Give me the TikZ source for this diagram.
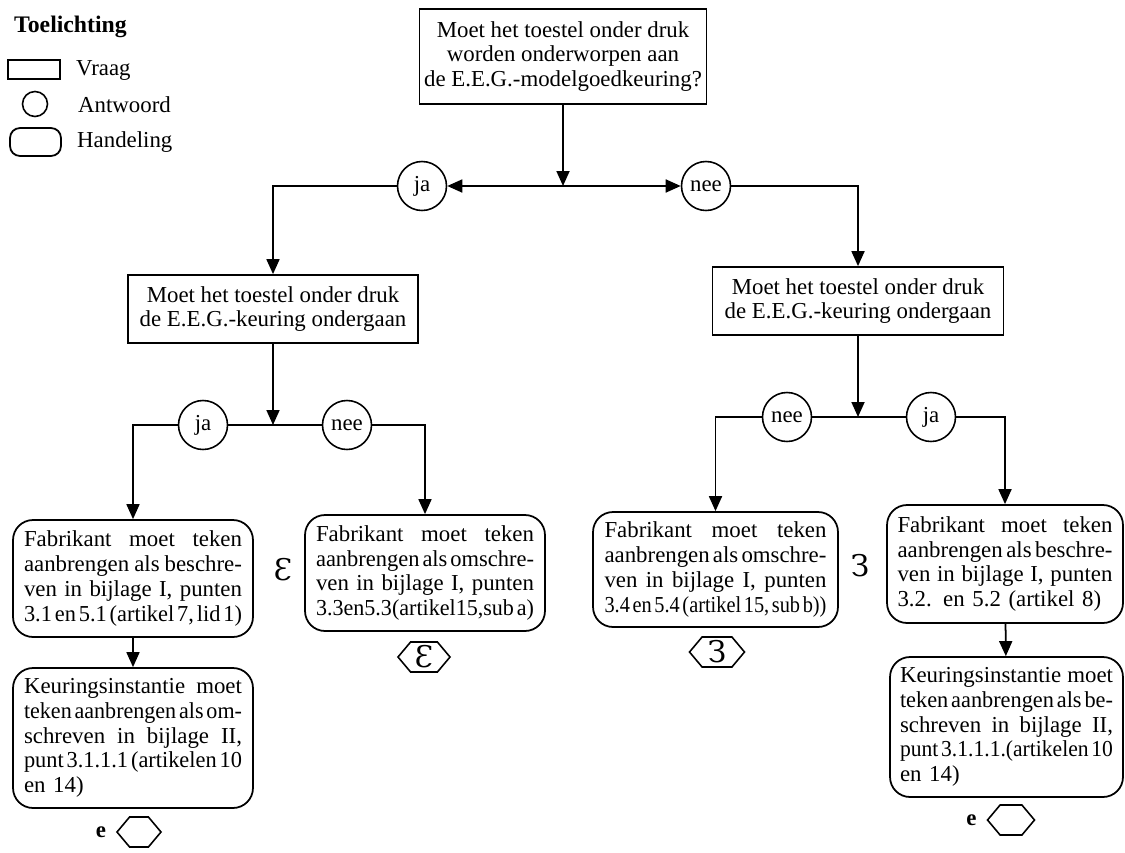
\documentclass[tikz,border=0pt]{standalone}
\usepackage{fontspec}
\usepackage{graphicx}
\setmainfont{Liberation Serif}
\newfontfamily\markfont{DejaVu Serif}
\usetikzlibrary{arrows.meta,shapes.symbols}
\newsavebox\jlbox
\newcommand\jl[1]{\sbox\jlbox{\spaceskip=.13em\relax\xspaceskip=.13em\relax #1}%
  \ifdim\wd\jlbox>\linewidth
    \resizebox{\linewidth}{\ht\jlbox}{\usebox\jlbox}%
  \else
    \makebox[\linewidth][s]{\spaceskip=.3em plus 1em minus .17em\relax\xspaceskip=\spaceskip #1}%
  \fi\par}
\newcommand\epsmark{{\markfont\fontsize{17}{17}\selectfont Ɛ}}
\newcommand\revmark{\scalebox{-1}[1]{\epsmark}}
\tikzset{
  every node/.style={font=\fontsize{13}{14}\selectfont},
  vraag/.style={draw, line width=1pt, rectangle, align=center, inner sep=0pt},
  antw/.style={draw, circle, line width=0.9pt, minimum size=9.8mm, inner sep=0pt},
  hand/.style={draw, rounded corners=4mm, line width=1pt, inner sep=0pt, align=left, font=\fontsize{13}{14.1}\selectfont},
  hexa/.style={draw, signal, signal to=east and west, signal pointer angle=100, line width=0.9pt, inner sep=0pt, minimum height=6mm},
  ln/.style={line width=1pt},
  arr/.style={line width=1pt, -{Triangle[length=3mm,width=2.6mm]}},
}
\begin{document}
\begin{tikzpicture}[x=0.02cm,y=-0.02cm]
\useasboundingbox (0,0) rectangle (1125,852);
% legend
\node[anchor=west, font=\fontsize{13.5}{14}\selectfont\bfseries] (tl) at (8,27) {Toelichting};
\node[draw, line width=1pt, minimum width=10.4mm, minimum height=3.8mm, inner sep=0pt] (lv) at (34,69.5) {};
\node[anchor=west] (tv) at (70,70) {Vraag};
\node[draw, circle, line width=0.9pt, minimum size=5mm, inner sep=0pt] (la) at (35,104) {};
\node[anchor=west] (ta) at (72,105) {Antwoord};
\node[draw, rounded corners=2mm, line width=1pt, minimum width=10.2mm, minimum height=5.6mm, inner sep=0pt] (lh) at (35.5,142) {};
\node[anchor=west] (th) at (71,142) {Handeling};
% top question
\node[vraag, minimum width=57.4mm, minimum height=19mm] (q0) at (563,56.5)
  {Moet het toestel onder druk\\worden onderworpen aan\\de E.E.G.-modelgoedkeuring?};
\coordinate (j0) at (563,186);
\node[antw] (ja0) at (422,186) {ja};
\node[antw] (nee0) at (706,186) {nee};
% second level questions
\node[vraag, minimum width=58mm, minimum height=13.6mm] (qL) at (273,309)
  {Moet het toestel onder druk\\de E.E.G.-keuring ondergaan};
\node[vraag, minimum width=58.2mm, minimum height=13.6mm] (qR) at (858,301)
  {Moet het toestel onder druk\\de E.E.G.-keuring ondergaan};
\coordinate (jL) at (273,425);
\node[antw] (ja1) at (203,425) {ja};
\node[antw] (nee1) at (347,425) {nee};
\coordinate (jR) at (858,417);
\node[antw] (nee2) at (787,417) {nee};
\node[antw] (ja2) at (931,417) {ja};
% actions
\node[hand, minimum width=48mm, minimum height=23.4mm, text width=43.6mm] (L1) at (133,578.5)
  {\jl{Fabrikant moet teken}\jl{aanbrengen als beschre-}\jl{ven in bijlage I, punten}\jl{3.1 en 5.1 (artikel 7, lid 1)}};
\node[hand, minimum width=48mm, minimum height=28mm, text width=43.6mm] (L2) at (133,738)
  {\jl{Keuringsinstantie moet}\jl{teken aanbrengen als om-}\jl{schreven in bijlage II,}\jl{punt 3.1.1.1 (artikelen 10}en 14)};
\node[hand, minimum width=48mm, minimum height=23.2mm, text width=43.6mm] (L3) at (425,573)
  {\jl{Fabrikant moet teken}\jl{aanbrengen als omschre-}\jl{ven in bijlage I, punten}\jl{3.3en5.3(artikel15,sub a)}};
\node[hand, minimum width=49mm, minimum height=23mm, text width=44.4mm] (R3) at (715.5,569.5)
  {\jl{Fabrikant moet teken}\jl{aanbrengen als omschre-}\jl{ven in bijlage I, punten}\jl{3.4 en 5.4 (artikel 15, sub b))}};
\node[hand, minimum width=47.2mm, minimum height=23.6mm, text width=43mm] (R4) at (1005,564)
  {\jl{Fabrikant moet teken}\jl{aanbrengen als beschre-}\jl{ven in bijlage I, punten}3.2. en 5.2 (artikel 8)};
\node[hand, minimum width=46.6mm, minimum height=28mm, text width=42.6mm] (R5) at (1006.5,727)
  {\jl{Keuringsinstantie moet}\jl{teken aanbrengen als be-}\jl{schreven in bijlage II,}\jl{punt 3.1.1.1.(artikelen 10}en 14)};
% marks
\node[inner sep=0pt] (mL) at (283,570) {\epsmark};
\node[inner sep=0pt] (mR) at (860,566) {\revmark};
\node[hexa, minimum width=10.4mm] (hL3) at (424,657) {\epsmark};
\node[hexa, minimum width=11mm] (hR3) at (717,652) {\revmark};
\node[hexa, minimum width=8.8mm] (hL2) at (139,832) {};
\node[anchor=east, font=\fontsize{13}{13}\selectfont\bfseries] (eL) at (hL2.west) {e\,};
\node[hexa, minimum width=9.4mm] (hR5) at (1011,820) {};
\node[anchor=east, font=\fontsize{13}{13}\selectfont\bfseries] (eR) at (hR5.west) {e\,};
% connectors
\draw[arr] (q0.south) -- (j0);
\draw[arr] (j0) -- (ja0);
\draw[arr] (j0) -- (nee0);
\draw[arr] (ja0.west) -| (qL.north);
\draw[arr] (nee0.east) -| (qR.north);
\draw[arr] (qL.south) -- (jL);
\draw[ln] (ja1) -- (nee1);
\draw[arr] (ja1.west) -| (L1.north);
\draw[arr] (nee1.east) -| (L3.north);
\draw[arr] (qR.south) -- (jR);
\draw[ln] (nee2) -- (ja2);
\draw[arr] (nee2.west) -| (R3.north);
\draw[arr] (ja2.east) -| (R4.north);
\draw[arr] (L1) -- (L2);
\draw[arr] (R4) -- (R5);
\end{tikzpicture}
\end{document}
